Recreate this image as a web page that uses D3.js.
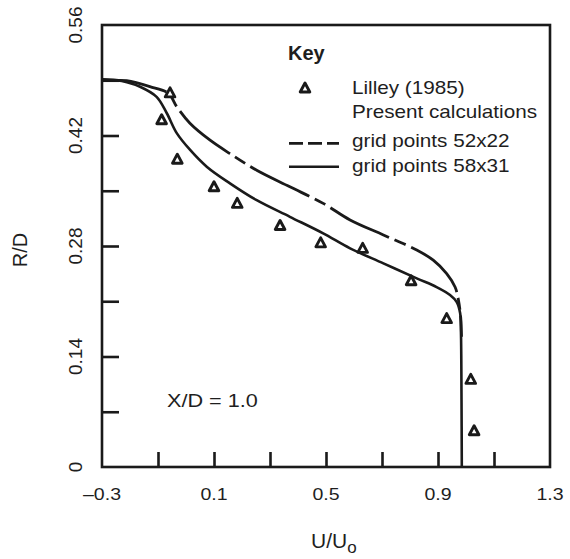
<!DOCTYPE html>
<html>
<head>
<meta charset="utf-8">
<script src="https://cdn.jsdelivr.net/npm/d3@7"></script>
<style>
  html, body { margin: 0; padding: 0; background: #fff; }
  svg { display: block; }
  text { font-family: "Liberation Sans", Arial, Helvetica, sans-serif; fill: #1e1e1e; }
</style>
</head>
<body>
<svg id="chart" width="570" height="559"></svg>
<script>
// ---------------- data ----------------
const lilleyU = [-0.057, -0.087, -0.031, 0.100, 0.183, 0.336, 0.481, 0.631, 0.804, 0.931, 1.017, 1.029];
const lilleyR = [0.474, 0.440, 0.390, 0.355, 0.334, 0.306, 0.284, 0.277, 0.236, 0.188, 0.111, 0.046];

const grid52U = [-0.3, -0.25, -0.212, -0.129, -0.063, -0.033, 0.014, 0.086, 0.157, 0.2525, 0.371, 0.490, 0.586, 0.705, 0.824, 0.883, 0.931, 0.961, 0.973, 0.981, 0.984];
const grid52R = [0.491, 0.490, 0.4895, 0.482, 0.4735, 0.4565, 0.4355, 0.414, 0.397, 0.376, 0.355, 0.334, 0.313, 0.294, 0.275, 0.262, 0.245, 0.228, 0.2116, 0.190, 0.165];

const grid58U = [-0.3, -0.25, -0.211, -0.164, -0.105, -0.069, -0.033, 0.014, 0.074, 0.157, 0.2525, 0.371, 0.490, 0.586, 0.705, 0.824, 0.895, 0.943, 0.967, 0.979, 0.982, 0.984, 0.985];
const grid58R = [0.491, 0.490, 0.4875, 0.4818, 0.469, 0.4485, 0.423, 0.402, 0.3805, 0.3594, 0.338, 0.317, 0.296, 0.277, 0.258, 0.239, 0.228, 0.218, 0.209, 0.195, 0.170, 0.085, 0.0];

const xTickValues = [-0.3, -0.1, 0.1, 0.3, 0.5, 0.7, 0.9, 1.1, 1.3];
const xTickLabels = ["\u20130.3", "", "0.1", "", "0.5", "", "0.9", "", "1.3"];
const yTickValues = [0, 0.07, 0.14, 0.21, 0.28, 0.35, 0.42, 0.49, 0.56];
const yTickLabels = ["0", "", "0.14", "", "0.28", "", "0.42", "", "0.56"];

const legendLabels = ["Lilley (1985)", "Present calculations", "grid points 52x22", "grid points 58x31"];

// ---------------- drawing ----------------
const svg = d3.select("#chart");
const x = d3.scaleLinear().domain([-0.3, 1.3]).range([102, 550]);
const y = d3.scaleLinear().domain([0, 0.56]).range([467, 25]);
const ink = "#1a1a1a";
const lw = 2.6;

function sText(g, px, py, str, size, sx, anchor, weight) {
  return g.append("text")
    .attr("transform", `translate(${px},${py}) scale(${sx},1)`)
    .attr("font-size", size)
    .attr("text-anchor", anchor || "start")
    .attr("font-weight", weight || "normal")
    .text(str);
}

// frame
svg.append("rect")
  .attr("x", x(-0.3)).attr("y", y(0.56))
  .attr("width", x(1.3) - x(-0.3)).attr("height", y(0) - y(0.56))
  .attr("fill", "none").attr("stroke", ink).attr("stroke-width", lw);

// x ticks (inward)
const xAxis = d3.axisBottom(x).tickValues(xTickValues.slice(1, -1)).tickSize(-15).tickFormat("");
const gx = svg.append("g").attr("transform", `translate(0,${y(0)})`).call(xAxis);
gx.select(".domain").remove();
gx.selectAll(".tick line").attr("stroke", ink).attr("stroke-width", lw);

// y ticks (inward)
const yAxis = d3.axisLeft(y).tickValues(yTickValues.slice(1, -1)).tickSize(-17).tickFormat("");
const gy = svg.append("g").attr("transform", `translate(${x(-0.3)},0)`).call(yAxis);
gy.select(".domain").remove();
gy.selectAll(".tick line").attr("stroke", ink).attr("stroke-width", lw);

// x tick labels
const labels = svg.append("g");
xTickValues.forEach((v, i) => {
  if (xTickLabels[i]) sText(labels, x(v), 500, xTickLabels[i], 17, 1.15, "middle");
});
// y tick labels (rotated)
yTickValues.forEach((v, i) => {
  if (yTickLabels[i]) {
    labels.append("text")
      .attr("transform", `translate(82,${y(v)}) rotate(-90)`)
      .attr("font-size", 19)
      .attr("text-anchor", "middle")
      .text(yTickLabels[i]);
  }
});

// axis titles
labels.append("text")
  .attr("transform", `translate(27,250) rotate(-90)`)
  .attr("font-size", 20).attr("text-anchor", "middle")
  .text("R/D");
const xt = labels.append("text").attr("x", 311).attr("y", 548).attr("font-size", 21);
xt.append("tspan").text("U/U");
xt.append("tspan").attr("font-size", 17).attr("dy", 5).text("o");

// annotation
sText(labels, 167, 407, "X/D = 1.0", 18.5, 1.17, "start");

// curves
const line = d3.line().x(d => x(d[0])).y(d => y(d[1])).curve(d3.curveCatmullRom.alpha(0.5));
const d58 = grid58U.map((u, i) => [u, grid58R[i]]);
const d52 = grid52U.map((u, i) => [u, grid52R[i]]);

svg.append("path").attr("d", line(d52))
  .attr("fill", "none").attr("stroke", ink).attr("stroke-width", 2.8)
  .attr("stroke-dasharray", "66,6,12,6");
svg.append("path").attr("d", line(d58))
  .attr("fill", "none").attr("stroke", ink).attr("stroke-width", lw);

// markers
const tri = "M0,-5L4.8,4L-4.8,4Z";
svg.append("g").selectAll("path")
  .data(lilleyU.map((u, i) => [u, lilleyR[i]]))
  .join("path")
  .attr("d", tri)
  .attr("transform", d => `translate(${x(d[0])},${y(d[1])})`)
  .attr("fill", "#fff").attr("stroke", ink).attr("stroke-width", 2.9)
  .attr("stroke-linejoin", "round");

// legend
const lg = svg.append("g");
sText(lg, 288, 60, "Key", 20, 1.0, "start", "bold");
lg.append("path").attr("d", tri).attr("transform", "translate(305,88)")
  .attr("fill", "#fff").attr("stroke", ink).attr("stroke-width", 2.9)
  .attr("stroke-linejoin", "round");
const baselines = [93.5, 117.5, 147, 171.5];
legendLabels.forEach((t, i) => sText(lg, 352, baselines[i], t, 18, 1.15, "start"));
lg.append("line").attr("x1", 289).attr("x2", 339).attr("y1", 143.3).attr("y2", 143.3)
  .attr("stroke", ink).attr("stroke-width", 2.8).attr("stroke-dasharray", "14,5");
lg.append("line").attr("x1", 289).attr("x2", 339).attr("y1", 166.7).attr("y2", 166.7)
  .attr("stroke", ink).attr("stroke-width", lw);
</script>
</body>
</html>
